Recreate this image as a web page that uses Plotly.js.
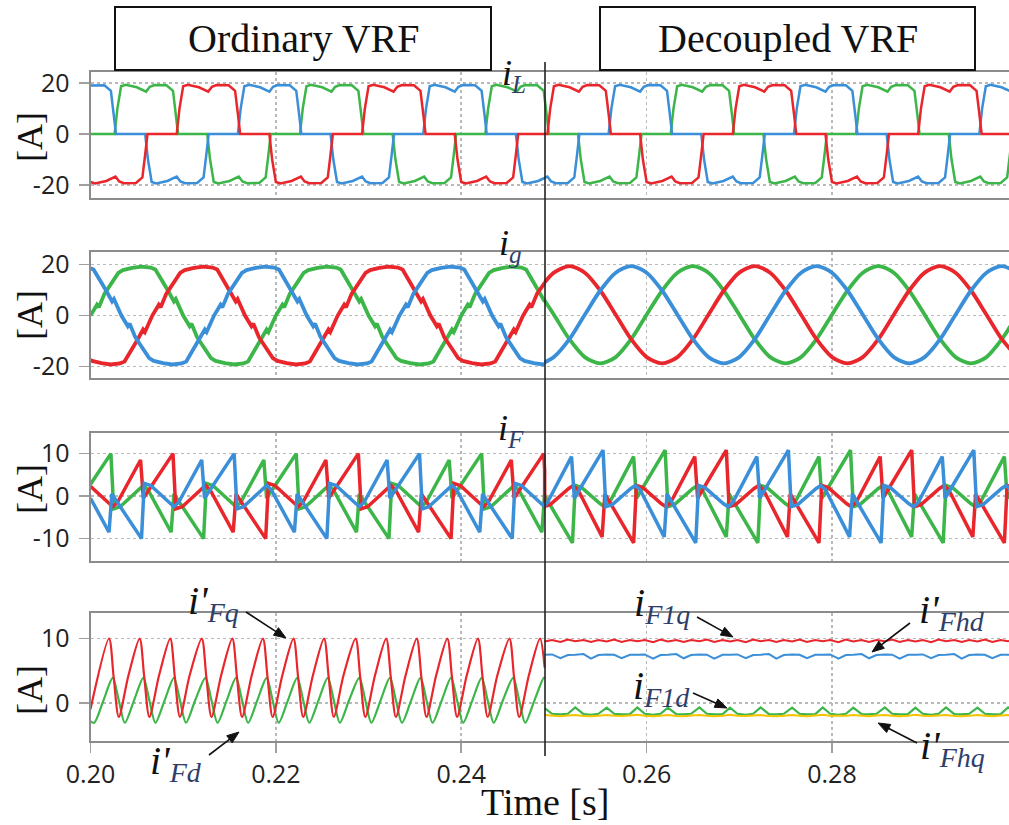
<!DOCTYPE html>
<html>
<head>
<meta charset="utf-8">
<script src="https://cdn.plot.ly/plotly-3.0.1.min.js"></script>
<style>html,body{margin:0;padding:0;background:#fff;}#chart{width:1009px;height:825px;}</style>
</head>
<body>
<div id="chart"></div>
<script>
// ---------------- DATA (time in ms, current in A) ----------------
const xTickVals = [0.20, 0.22, 0.24, 0.26, 0.28];
const xTickText = ['0.20', '0.22', '0.24', '0.26', '0.28'];
const yTickVals = [[-20, 0, 20], [-20, 0, 20], [-10, 0, 10], [0, 10]];
const yTickText = [['-20', '0', '20'], ['-20', '0', '20'], ['-10', '0', '10'], ['0', '10']];
const panelTitles = ['Ordinary VRF', 'Decoupled VRF'];

// Row 1: load current i_L
const iL_green = [[200,0],
[202.6,0],[202.9,10],[203.3,18.8],[203.8,19.4],[205,18.4],[206,16.7],[206.4,18.6],[206.9,19.3],[208.2,19.2],[208.9,17],[209.2,8],[209.45,0],
[212.6,0],[212.9,-10],[213.3,-18.8],[213.8,-19.4],[215,-18.4],[216,-16.7],[216.4,-18.6],[216.9,-19.3],[218.2,-19.2],[218.9,-17],[219.2,-8],[219.45,0],
[222.6,0],[222.9,10],[223.3,18.8],[223.8,19.4],[225,18.4],[226,16.7],[226.4,18.6],[226.9,19.3],[228.2,19.2],[228.9,17],[229.2,8],[229.45,0],
[232.6,0],[232.9,-10],[233.3,-18.8],[233.8,-19.4],[235,-18.4],[236,-16.7],[236.4,-18.6],[236.9,-19.3],[238.2,-19.2],[238.9,-17],[239.2,-8],[239.45,0],
[242.6,0],[242.9,10],[243.3,18.8],[243.8,19.4],[245,18.4],[246,16.7],[246.4,18.6],[246.9,19.3],[248.2,19.2],[248.9,17],[249.2,8],[249.45,0],
[252.6,0],[252.9,-10],[253.3,-18.8],[253.8,-19.4],[255,-18.4],[256,-16.7],[256.4,-18.6],[256.9,-19.3],[258.2,-19.2],[258.9,-17],[259.2,-8],[259.45,0],
[262.6,0],[262.9,10],[263.3,18.8],[263.8,19.4],[265,18.4],[266,16.7],[266.4,18.6],[266.9,19.3],[268.2,19.2],[268.9,17],[269.2,8],[269.45,0],
[272.6,0],[272.9,-10],[273.3,-18.8],[273.8,-19.4],[275,-18.4],[276,-16.7],[276.4,-18.6],[276.9,-19.3],[278.2,-19.2],[278.9,-17],[279.2,-8],[279.45,0],
[282.6,0],[282.9,10],[283.3,18.8],[283.8,19.4],[285,18.4],[286,16.7],[286.4,18.6],[286.9,19.3],[288.2,19.2],[288.9,17],[289.2,8],[289.45,0],
[292.6,0],[292.9,-10],[293.3,-18.8],[293.8,-19.4],[295,-18.4],[296,-16.7],[296.4,-18.6],[296.9,-19.3],[298.2,-19.2],[298.9,-17],[299.2,-8],[299.45,0]];

const iL_red = [[200,-18.8],[200.5,-19.4],[201.7,-18.4],[202.7,-16.7],[203.1,-18.6],[203.6,-19.3],[204.9,-19.2],[205.6,-17],[205.9,-8],[206.15,0],
[209.3,0],[209.6,10],[210,18.8],[210.5,19.4],[211.7,18.4],[212.7,16.7],[213.1,18.6],[213.6,19.3],[214.9,19.2],[215.6,17],[215.9,8],[216.15,0],
[219.3,0],[219.6,-10],[220,-18.8],[220.5,-19.4],[221.7,-18.4],[222.7,-16.7],[223.1,-18.6],[223.6,-19.3],[224.9,-19.2],[225.6,-17],[225.9,-8],[226.15,0],
[229.3,0],[229.6,10],[230,18.8],[230.5,19.4],[231.7,18.4],[232.7,16.7],[233.1,18.6],[233.6,19.3],[234.9,19.2],[235.6,17],[235.9,8],[236.15,0],
[239.3,0],[239.6,-10],[240,-18.8],[240.5,-19.4],[241.7,-18.4],[242.7,-16.7],[243.1,-18.6],[243.6,-19.3],[244.9,-19.2],[245.6,-17],[245.9,-8],[246.15,0],
[249.3,0],[249.6,10],[250,18.8],[250.5,19.4],[251.7,18.4],[252.7,16.7],[253.1,18.6],[253.6,19.3],[254.9,19.2],[255.6,17],[255.9,8],[256.15,0],
[259.3,0],[259.6,-10],[260,-18.8],[260.5,-19.4],[261.7,-18.4],[262.7,-16.7],[263.1,-18.6],[263.6,-19.3],[264.9,-19.2],[265.6,-17],[265.9,-8],[266.15,0],
[269.3,0],[269.6,10],[270,18.8],[270.5,19.4],[271.7,18.4],[272.7,16.7],[273.1,18.6],[273.6,19.3],[274.9,19.2],[275.6,17],[275.9,8],[276.15,0],
[279.3,0],[279.6,-10],[280,-18.8],[280.5,-19.4],[281.7,-18.4],[282.7,-16.7],[283.1,-18.6],[283.6,-19.3],[284.9,-19.2],[285.6,-17],[285.9,-8],[286.15,0],
[289.3,0],[289.6,10],[290,18.8],[290.5,19.4],[291.7,18.4],[292.7,16.7],[293.1,18.6],[293.6,19.3],[294.9,19.2],[295.6,17],[295.9,8],[296.15,0],
[299.3,0]];

const iL_blue = [[200,19.1],[201.5,19.2],[202.2,17],[202.5,8],[202.75,0],
[205.9,0],[206.2,-10],[206.6,-18.8],[207.1,-19.4],[208.3,-18.4],[209.3,-16.7],[209.7,-18.6],[210.2,-19.3],[211.5,-19.2],[212.2,-17],[212.5,-8],[212.75,0],
[215.9,0],[216.2,10],[216.6,18.8],[217.1,19.4],[218.3,18.4],[219.3,16.7],[219.7,18.6],[220.2,19.3],[221.5,19.2],[222.2,17],[222.5,8],[222.75,0],
[225.9,0],[226.2,-10],[226.6,-18.8],[227.1,-19.4],[228.3,-18.4],[229.3,-16.7],[229.7,-18.6],[230.2,-19.3],[231.5,-19.2],[232.2,-17],[232.5,-8],[232.75,0],
[235.9,0],[236.2,10],[236.6,18.8],[237.1,19.4],[238.3,18.4],[239.3,16.7],[239.7,18.6],[240.2,19.3],[241.5,19.2],[242.2,17],[242.5,8],[242.75,0],
[245.9,0],[246.2,-10],[246.6,-18.8],[247.1,-19.4],[248.3,-18.4],[249.3,-16.7],[249.7,-18.6],[250.2,-19.3],[251.5,-19.2],[252.2,-17],[252.5,-8],[252.75,0],
[255.9,0],[256.2,10],[256.6,18.8],[257.1,19.4],[258.3,18.4],[259.3,16.7],[259.7,18.6],[260.2,19.3],[261.5,19.2],[262.2,17],[262.5,8],[262.75,0],
[265.9,0],[266.2,-10],[266.6,-18.8],[267.1,-19.4],[268.3,-18.4],[269.3,-16.7],[269.7,-18.6],[270.2,-19.3],[271.5,-19.2],[272.2,-17],[272.5,-8],[272.75,0],
[275.9,0],[276.2,10],[276.6,18.8],[277.1,19.4],[278.3,18.4],[279.3,16.7],[279.7,18.6],[280.2,19.3],[281.5,19.2],[282.2,17],[282.5,8],[282.75,0],
[285.9,0],[286.2,-10],[286.6,-18.8],[287.1,-19.4],[288.3,-18.4],[289.3,-16.7],[289.7,-18.6],[290.2,-19.3],[291.5,-19.2],[292.2,-17],[292.5,-8],[292.75,0],
[295.9,0],[296.2,10],[296.6,18.8],[297.1,19.4],[298.3,18.4],[299.3,16.7]];

// Row 2: grid current i_g, ordinary VRF part (distorted)
const ig_green_L = [[200,0],[200.7,4.2],[200.9,3.2],[201.5,8.5],[203,16.7],[203.5,17.8],[204.5,18.7],[205.5,19.2],[206.5,18.8],[207,18],[208.4,9.5],[209,5.5],[209.2,6.5],
[210,0],[210.7,-4.2],[210.9,-3.2],[211.5,-8.5],[213,-16.7],[213.5,-17.8],[214.5,-18.7],[215.5,-19.2],[216.5,-18.8],[217,-18],[218.4,-9.5],[219,-5.5],[219.2,-6.5],
[220,0],[220.7,4.2],[220.9,3.2],[221.5,8.5],[223,16.7],[223.5,17.8],[224.5,18.7],[225.5,19.2],[226.5,18.8],[227,18],[228.4,9.5],[229,5.5],[229.2,6.5],
[230,0],[230.7,-4.2],[230.9,-3.2],[231.5,-8.5],[233,-16.7],[233.5,-17.8],[234.5,-18.7],[235.5,-19.2],[236.5,-18.8],[237,-18],[238.4,-9.5],[239,-5.5],[239.2,-6.5],
[240,0],[240.7,4.2],[240.9,3.2],[241.5,8.5],[243,16.7],[243.5,17.8],[244.5,18.7],[245.5,19.2],[246.5,18.8],[247,18],[248.4,9.5],[249,5.5]];

const ig_red_L = [[200,-17.4],[200.17,-17.8],[201.17,-18.7],[202.17,-19.2],[203.17,-18.8],[203.67,-18],[205.07,-9.5],[205.67,-5.5],[205.87,-6.5],
[206.67,0],[207.37,4.2],[207.57,3.2],[208.17,8.5],[209.67,16.7],[210.17,17.8],[211.17,18.7],[212.17,19.2],[213.17,18.8],[213.67,18],[215.07,9.5],[215.67,5.5],[215.87,6.5],
[216.67,0],[217.37,-4.2],[217.57,-3.2],[218.17,-8.5],[219.67,-16.7],[220.17,-17.8],[221.17,-18.7],[222.17,-19.2],[223.17,-18.8],[223.67,-18],[225.07,-9.5],[225.67,-5.5],[225.87,-6.5],
[226.67,0],[227.37,4.2],[227.57,3.2],[228.17,8.5],[229.67,16.7],[230.17,17.8],[231.17,18.7],[232.17,19.2],[233.17,18.8],[233.67,18],[235.07,9.5],[235.67,5.5],[235.87,6.5],
[236.67,0],[237.37,-4.2],[237.57,-3.2],[238.17,-8.5],[239.67,-16.7],[240.17,-17.8],[241.17,-18.7],[242.17,-19.2],[243.17,-18.8],[243.67,-18],[245.07,-9.5],[245.67,-5.5],[245.87,-6.5],
[246.67,0],[247.37,4.2],[247.57,3.2],[248.17,8.5],[249,12.8]];

const ig_blue_L = [[200,18.5],[200.33,18],[201.73,9.5],[202.33,5.5],[202.53,6.5],
[203.33,0],[204.03,-4.2],[204.23,-3.2],[204.83,-8.5],[206.33,-16.7],[206.83,-17.8],[207.83,-18.7],[208.83,-19.2],[209.83,-18.8],[210.33,-18],[211.73,-9.5],[212.33,-5.5],[212.53,-6.5],
[213.33,0],[214.03,4.2],[214.23,3.2],[214.83,8.5],[216.33,16.7],[216.83,17.8],[217.83,18.7],[218.83,19.2],[219.83,18.8],[220.33,18],[221.73,9.5],[222.33,5.5],[222.53,6.5],
[223.33,0],[224.03,-4.2],[224.23,-3.2],[224.83,-8.5],[226.33,-16.7],[226.83,-17.8],[227.83,-18.7],[228.83,-19.2],[229.83,-18.8],[230.33,-18],[231.73,-9.5],[232.33,-5.5],[232.53,-6.5],
[233.33,0],[234.03,4.2],[234.23,3.2],[234.83,8.5],[236.33,16.7],[236.83,17.8],[237.83,18.7],[238.83,19.2],[239.83,18.8],[240.33,18],[241.73,9.5],[242.33,5.5],[242.53,6.5],
[243.33,0],[244.03,-4.2],[244.23,-3.2],[244.83,-8.5],[246.33,-16.7],[246.83,-17.8],[247.83,-18.7],[248.83,-19.2],[249,-19.1]];

// Row 2: grid current i_g, decoupled VRF part (sinusoidal), common time grid
const igR_t = [249,250,251.67,253.33,255,256.67,258.33,260,261.67,263.33,265,266.67,268.33,270,271.67,273.33,275,276.67,278.33,280,281.67,283.33,285,286.67,288.33,290,291.67,293.33,295,296.67,298.33,300];
const ig_green_R = [5.9,0.3,-9.3,-16.3,-18.8,-16.3,-9.3,0.3,9.8,16.8,19.4,16.8,9.8,0.3,-9.3,-16.3,-18.8,-16.3,-9.3,0.3,9.8,16.8,19.4,16.8,9.8,0.3,-9.3,-16.3,-18.8,-16.3,-9.3,0.3];
const ig_red_R = [13.0,16.8,19.4,16.8,9.8,0.3,-9.3,-16.3,-18.8,-16.3,-9.3,0.3,9.8,16.8,19.4,16.8,9.8,0.3,-9.3,-16.3,-18.8,-16.3,-9.3,0.3,9.8,16.8,19.4,16.8,9.8,0.3,-9.3,-16.3];
const ig_blue_R = [-18.4,-16.3,-9.3,0.3,9.8,16.8,19.4,16.8,9.8,0.3,-9.3,-16.3,-18.8,-16.3,-9.3,0.3,9.8,16.8,19.4,16.8,9.8,0.3,-9.3,-16.3,-18.8,-16.3,-9.3,0.3,9.8,16.8,19.4,16.8];

// Row 3: filter current i_F
const iF_green = [[200,2.8],
[202.2,10],[202.5,-3],[203.2,-2.5],[204.2,-0.5],[205.2,1.5],[205.7,2.5],[206.2,1.5],[208.7,-8.5],[209,0.5],[212.2,-10],[212.5,3],[213.2,2.5],[214.2,0.5],[215.2,-1.5],[215.7,-2.5],[216.2,-1.5],[218.7,8.5],[219,-0.5],
[222.2,10],[222.5,-3],[223.2,-2.5],[224.2,-0.5],[225.2,1.5],[225.7,2.5],[226.2,1.5],[228.7,-8.5],[229,0.5],[232.2,-10],[232.5,3],[233.2,2.5],[234.2,0.5],[235.2,-1.5],[235.7,-2.5],[236.2,-1.5],[238.7,8.5],[239,-0.5],
[242.2,10],[242.5,-3],[243.2,-2.5],[244.2,-0.5],[245.2,1.5],[245.7,2.5],[246.2,1.5],[248.7,-8.5],[249,0.5],
[249,0.1],[252,-11],[252.3,2.5],[253,2],[254,0],[255,-1.8],[255.5,-2.5],[256,-1.5],[258.6,9.3],[258.9,-0.5],
[262,10.8],[262.3,-2.5],[263,-2],[264,0],[265,1.8],[265.5,2.5],[266,1.5],[268.6,-9.6],[268.9,0.5],[272,-11],[272.3,2.5],[273,2],[274,0],[275,-1.8],[275.5,-2.5],[276,-1.5],[278.6,9.3],[278.9,-0.5],
[282,10.8],[282.3,-2.5],[283,-2],[284,0],[285,1.8],[285.5,2.5],[286,1.5],[288.6,-9.6],[288.9,0.5],[292,-11],[292.3,2.5],[293,2],[294,0],[295,-1.8],[295.5,-2.5],[296,-1.5],[298.6,9.3],[298.9,-0.5],[300,3.5]];

const iF_red = [[200,2.3],[200.9,0.5],[201.9,-1.5],[202.4,-2.5],[202.9,-1.5],[205.4,8.5],[205.7,-0.5],
[208.9,10],[209.2,-3],[209.9,-2.5],[210.9,-0.5],[211.9,1.5],[212.4,2.5],[212.9,1.5],[215.4,-8.5],[215.7,0.5],[218.9,-10],[219.2,3],[219.9,2.5],[220.9,0.5],[221.9,-1.5],[222.4,-2.5],[222.9,-1.5],[225.4,8.5],[225.7,-0.5],
[228.9,10],[229.2,-3],[229.9,-2.5],[230.9,-0.5],[231.9,1.5],[232.4,2.5],[232.9,1.5],[235.4,-8.5],[235.7,0.5],[238.9,-10],[239.2,3],[239.9,2.5],[240.9,0.5],[241.9,-1.5],[242.4,-2.5],[242.9,-1.5],[245.4,8.5],[245.7,-0.5],
[248.9,10],[249,6],
[249,-2.4],[249.6,-2],[250.6,0],[251.6,1.8],[252.1,2.5],[252.6,1.5],[255.2,-9.6],[255.5,0.5],[258.6,-11],[258.9,2.5],[259.6,2],[260.6,0],[261.6,-1.8],[262.1,-2.5],[262.6,-1.5],[265.2,9.3],[265.5,-0.5],
[268.6,10.8],[268.9,-2.5],[269.6,-2],[270.6,0],[271.6,1.8],[272.1,2.5],[272.6,1.5],[275.2,-9.6],[275.5,0.5],[278.6,-11],[278.9,2.5],[279.6,2],[280.6,0],[281.6,-1.8],[282.1,-2.5],[282.6,-1.5],[285.2,9.3],[285.5,-0.5],
[288.6,10.8],[288.9,-2.5],[289.6,-2],[290.6,0],[291.6,1.8],[292.1,2.5],[292.6,1.5],[295.2,-9.6],[295.5,0.5],[298.6,-11],[298.9,2.5],[299.6,2]];

const iF_blue = [[200,-0.5],[202,-8.5],[202.3,0.5],[205.5,-10],[205.8,3],[206.5,2.5],[207.5,0.5],[208.5,-1.5],[209,-2.5],[209.5,-1.5],[212,8.5],[212.3,-0.5],
[215.5,10],[215.8,-3],[216.5,-2.5],[217.5,-0.5],[218.5,1.5],[219,2.5],[219.5,1.5],[222,-8.5],[222.3,0.5],[225.5,-10],[225.8,3],[226.5,2.5],[227.5,0.5],[228.5,-1.5],[229,-2.5],[229.5,-1.5],[232,8.5],[232.3,-0.5],
[235.5,10],[235.8,-3],[236.5,-2.5],[237.5,-0.5],[238.5,1.5],[239,2.5],[239.5,1.5],[242,-8.5],[242.3,0.5],[245.5,-10],[245.8,3],[246.5,2.5],[247.5,0.5],[248.5,-1.5],[249,-2.5],
[249,-2.1],[249.3,-1.5],[251.9,9.3],[252.2,-0.5],
[255.3,10.8],[255.6,-2.5],[256.3,-2],[257.3,0],[258.3,1.8],[258.8,2.5],[259.3,1.5],[261.9,-9.6],[262.2,0.5],[265.3,-11],[265.6,2.5],[266.3,2],[267.3,0],[268.3,-1.8],[268.8,-2.5],[269.3,-1.5],[271.9,9.3],[272.2,-0.5],
[275.3,10.8],[275.6,-2.5],[276.3,-2],[277.3,0],[278.3,1.8],[278.8,2.5],[279.3,1.5],[281.9,-9.6],[282.2,0.5],[285.3,-11],[285.6,2.5],[286.3,2],[287.3,0],[288.3,-1.8],[288.8,-2.5],[289.3,-1.5],[291.9,9.3],[292.2,-0.5],
[295.3,10.8],[295.6,-2.5],[296.3,-2],[297.3,0],[298.3,1.8],[298.8,2.5],[299.3,1.5]];

// Row 4, ordinary VRF: i'Fq (red) and i'Fd (green)
const iFq_L = [[200,-1],
[202,10],[202.5,4],[203.05,-2.2],[204.1,4.3],[205.3,10],[205.8,4],[206.35,-2.2],[207.4,4.3],
[208.6,10],[209.1,4],[209.65,-2.2],[210.7,4.3],[212,10],[212.5,4],[213.05,-2.2],[214.1,4.3],
[215.3,10],[215.8,4],[216.35,-2.2],[217.4,4.3],[218.6,10],[219.1,4],[219.65,-2.2],[220.7,4.3],
[221.9,10],[222.4,4],[222.95,-2.2],[224,4.3],[225.2,10],[225.7,4],[226.25,-2.2],[227.3,4.3],
[228.6,10],[229.1,4],[229.65,-2.2],[230.7,4.3],[231.9,10],[232.4,4],[232.95,-2.2],[234,4.3],
[235.2,10],[235.7,4],[236.25,-2.2],[237.3,4.3],[238.5,10],[239,4],[239.55,-2.2],[240.6,4.3],
[241.8,10],[242.3,4],[242.85,-2.2],[243.9,4.3],[245.2,10],[245.7,4],[246.25,-2.2],[247.3,4.3],
[248.5,10],[249,5.5]];

const iFd_L = [[200,-2.9],[200.4,-3.1],[201.4,0.4],
[202.4,3.9],[203.05,0.4],[203.7,-3.1],[204.7,0.4],[205.7,3.9],[206.35,0.4],[207,-3.1],[208,0.4],
[209,3.9],[209.65,0.4],[210.3,-3.1],[211.3,0.4],[212.4,3.9],[213.05,0.4],[213.7,-3.1],[214.7,0.4],
[215.7,3.9],[216.35,0.4],[217,-3.1],[218,0.4],[219,3.9],[219.65,0.4],[220.3,-3.1],[221.3,0.4],
[222.3,3.9],[222.95,0.4],[223.6,-3.1],[224.6,0.4],[225.6,3.9],[226.25,0.4],[226.9,-3.1],[227.9,0.4],
[229,3.9],[229.65,0.4],[230.3,-3.1],[231.3,0.4],[232.3,3.9],[232.95,0.4],[233.6,-3.1],[234.6,0.4],
[235.6,3.9],[236.25,0.4],[236.9,-3.1],[237.9,0.4],[238.9,3.9],[239.55,0.4],[240.2,-3.1],[241.2,0.4],
[242.2,3.9],[242.85,0.4],[243.5,-3.1],[244.5,0.4],[245.6,3.9],[246.25,0.4],[246.9,-3.1],[247.9,0.4],
[248.9,3.9],[249,3.8]];

// Row 4, decoupled VRF: common time grid
const t4R = [249.0,249.8,250.7,251.5,252.3,253.2,254.0,254.8,255.7,256.5,257.3,258.2,259.0,259.8,260.7,261.5,262.3,263.2,264.0,264.8,265.7,266.5,267.3,268.2,269.0,269.8,270.7,271.5,272.3,273.2,274.0,274.8,275.7,276.5,277.3,278.2,279.0,279.8,280.7,281.5,282.3,283.2,284.0,284.8,285.7,286.5,287.3,288.2,289.0,289.8,290.7,291.5,292.3,293.2,294.0,294.8,295.7,296.5,297.3,298.2,299.0,299.8];
const iF1q_R = [9.55,9.8,9.5,9.85,9.6,9.8,9.5,9.8,9.55,9.85,9.5,9.8,9.6,9.8,9.45,9.85,9.55,9.8,9.5,9.8,9.6,9.85,9.5,9.8,9.55,9.8,9.45,9.85,9.6,9.8,9.5,9.8,9.55,9.85,9.5,9.8,9.6,9.8,9.45,9.85,9.55,9.8,9.5,9.8,9.6,9.85,9.5,9.8,9.55,9.8,9.45,9.85,9.6,9.8,9.5,9.8,9.55,9.85,9.5,9.8,9.6,9.8];
const iFhd_R = [7.5,7.55,6.95,7.45,7.5,7.6,6.9,7.45,7.55,7.5,6.95,7.5,7.5,7.55,6.9,7.45,7.5,7.6,6.95,7.45,7.55,7.5,6.9,7.5,7.5,7.55,6.95,7.45,7.5,7.6,6.9,7.45,7.55,7.5,6.95,7.5,7.5,7.55,6.9,7.45,7.5,7.6,6.95,7.45,7.55,7.5,6.9,7.5,7.5,7.55,6.95,7.45,7.5,7.6,6.9,7.45,7.55,7.5,6.95,7.5,7.5,7.55];
const iF1d_R = [-0.8,-1.7,-1.8,-1.7,-0.7,-1.75,-1.85,-1.7,-0.75,-1.7,-1.8,-1.75,-0.7,-1.7,-1.85,-1.7,-0.75,-1.75,-1.8,-1.7,-0.7,-1.7,-1.8,-1.75,-0.75,-1.7,-1.85,-1.7,-0.7,-1.75,-1.8,-1.7,-0.75,-1.7,-1.8,-1.75,-0.7,-1.7,-1.85,-1.7,-0.75,-1.75,-1.8,-1.7,-0.7,-1.7,-1.8,-1.75,-0.75,-1.7,-1.85,-1.7,-0.7,-1.75,-1.8,-1.7,-0.75,-1.7,-1.8,-1.75,-0.7,-1.7];
const iFhq_R = [-1.9,-2.0,-2.1,-1.95,-1.9,-2.05,-2.1,-2.0,-1.9,-2.0,-2.05,-1.95,-1.85,-2.0,-2.1,-2.0,-1.9,-2.05,-2.1,-1.95,-1.9,-2.0,-2.1,-2.0,-1.85,-2.0,-2.05,-1.95,-1.9,-2.05,-2.1,-2.0,-1.9,-2.0,-2.1,-1.95,-1.85,-2.0,-2.05,-2.0,-1.9,-2.05,-2.1,-1.95,-1.9,-2.0,-2.1,-2.0,-1.85,-2.0,-2.05,-1.95,-1.9,-2.05,-2.1,-2.0,-1.9,-2.0,-2.1,-1.95,-1.9,-2.0];

// ---------------- STYLE / LAYOUT ----------------
const W = 1009, H = 825;
const RED = '#e8262b', GREEN = '#3cb549', BLUE = '#3a8fd8', YELLOW = '#f4c300';
const rowsPx = [[72, 198], [252, 378], [433, 561], [613, 741]];
const yRanges = [[-25.1, 24.4], [-24.5, 24.9], [-15.27, 14.85], [-5.94, 14.0]];
const xRange = [0.2, 0.2991];
const plotLeft = 90.5;
const px = v => v / W, py = v => 1 - v / H;
const TICKFONT = {family: 'Open Sans', size: 25, color: '#222'};
const SERIF = 'Liberation Serif';

function ax(i) { return i === 1 ? '' : String(i); }
function fromPairs(pairs, i, color, width, shape) {
  return {x: pairs.map(p => p[0] / 1000), y: pairs.map(p => p[1]), xaxis: 'x' + ax(i), yaxis: 'y' + ax(i),
    type: 'scatter', mode: 'lines', line: {color: color, width: width, shape: shape || 'linear', smoothing: 0.8},
    hoverinfo: 'skip', showlegend: false};
}
function fromGrid(times, vals, i, color, width, shape) {
  return fromPairs(times.map((t, k) => [t, vals[k]]), i, color, width, shape);
}

const traces = [
  fromPairs(iL_green, 1, GREEN, 2.5), fromPairs(iL_blue, 1, BLUE, 2.5), fromPairs(iL_red, 1, RED, 2.5),
  fromPairs(ig_green_L, 2, GREEN, 3.8), fromPairs(ig_red_L, 2, RED, 3.8), fromPairs(ig_blue_L, 2, BLUE, 3.8),
  fromGrid(igR_t, ig_green_R, 2, GREEN, 3.8, 'spline'), fromGrid(igR_t, ig_red_R, 2, RED, 3.8, 'spline'), fromGrid(igR_t, ig_blue_R, 2, BLUE, 3.8, 'spline'),
  fromPairs(iF_green, 3, GREEN, 3.5), fromPairs(iF_red, 3, RED, 3.5), fromPairs(iF_blue, 3, BLUE, 3.5),
  fromPairs(iFd_L, 4, GREEN, 2.2, 'spline'), fromPairs(iFq_L, 4, RED, 2.2, 'spline'),
  fromGrid(t4R, iFhd_R, 4, BLUE, 2), fromGrid(t4R, iF1q_R, 4, RED, 2),
  fromGrid(t4R, iF1d_R, 4, GREEN, 2.2), fromGrid(t4R, iFhq_R, 4, YELLOW, 2)
];

const layout = {
  width: W, height: H, margin: {l: 0, r: 0, t: 0, b: 0},
  paper_bgcolor: '#ffffff', plot_bgcolor: '#ffffff', showlegend: false,
  shapes: [], annotations: []
};

for (let i = 1; i <= 4; i++) {
  const r = rowsPx[i - 1];
  layout['xaxis' + ax(i)] = {
    domain: [px(plotLeft), 1], range: xRange, anchor: 'y' + ax(i),
    tickvals: xTickVals, ticktext: xTickText, showticklabels: i === 4,
    ticks: i === 4 ? 'outside' : '', ticklen: 10, tickwidth: 1.5, tickcolor: '#a0a0a0',
    showgrid: true, gridcolor: '#b9b9b9', griddash: 'dot', gridwidth: 1.5,
    showline: true, mirror: true, linecolor: '#8c8c8c', linewidth: 2, zeroline: false,
    tickfont: TICKFONT, fixedrange: true
  };
  layout['yaxis' + ax(i)] = {
    domain: [py(r[1]), py(r[0])], range: yRanges[i - 1], anchor: 'x' + ax(i),
    tickvals: yTickVals[i - 1], ticktext: yTickText[i - 1],
    ticks: 'outside', ticklen: 10, tickwidth: 1.5, tickcolor: '#a0a0a0', ticklabelstandoff: 4,
    showgrid: true, gridcolor: '#b9b9b9', griddash: 'dot', gridwidth: 1.5,
    showline: true, mirror: true, linecolor: '#8c8c8c', linewidth: 2, zeroline: false,
    tickfont: TICKFONT, fixedrange: true
  };
}

// title boxes and divider
[[115, 491], [600, 975]].forEach((b, k) => {
  layout.shapes.push({type: 'rect', xref: 'paper', yref: 'paper', x0: px(b[0]), x1: px(b[1]), y0: py(70), y1: py(7),
    line: {color: '#111', width: 2}, fillcolor: '#ffffff', layer: 'above'});
  layout.annotations.push({xref: 'paper', yref: 'paper', x: px((b[0] + b[1]) / 2), y: py(39), text: panelTitles[k],
    showarrow: false, font: {family: SERIF, size: 40, color: '#111'}, xanchor: 'center', yanchor: 'middle'});
});
layout.shapes.push({type: 'line', xref: 'paper', yref: 'paper', x0: px(545), x1: px(545), y0: py(62), y1: py(756),
  line: {color: '#222', width: 1.6}, layer: 'above'});

// y-axis labels [A]
[137, 315, 489, 690].forEach(yc => {
  layout.annotations.push({xref: 'paper', yref: 'paper', x: px(30), y: py(yc), text: '[A]', textangle: -90,
    showarrow: false, font: {family: SERIF, size: 36, color: '#111'}, xanchor: 'center', yanchor: 'middle'});
});
layout.annotations.push({xref: 'paper', yref: 'paper', x: px(545), y: py(802), text: 'Time [s]', showarrow: false,
  font: {family: SERIF, size: 38, color: '#111'}, xanchor: 'center', yanchor: 'middle'});

// signal labels
const SUBC = '#2f3f6a';
function lbl(main, sub, left, mid, size) {
  return {xref: 'paper', yref: 'paper', x: px(left), y: py(mid), xanchor: 'left', yanchor: 'middle', showarrow: false,
    text: '<i>' + main + '</i><sub><span style="color:' + SUBC + '"><i>' + sub + '</i></span></sub>',
    font: {family: SERIF, size: size, color: '#111'}};
}
layout.annotations.push(lbl('i', 'L', 500, 75, 36));
layout.annotations.push(lbl('i', 'g', 497, 246, 36));
layout.annotations.push(lbl('i', 'F', 496, 430, 36));
layout.annotations.push(lbl("i'", 'Fq', 186, 603, 40));
layout.annotations.push(lbl("i'", 'Fd', 148, 763, 40));
layout.annotations.push(lbl('i', 'F1q', 632, 605, 40));
layout.annotations.push(lbl("i'", 'Fhd', 917, 612, 40));
layout.annotations.push(lbl('i', 'F1d', 631, 688, 40));
layout.annotations.push(lbl("i'", 'Fhq', 918, 748, 40));

// arrows drawn as shapes: [headX, headY, tailX, tailY] in pixels
[[286, 638, 246, 612], [239, 732, 209, 755], [733, 637, 697, 617], [872, 652, 910, 623], [727, 708, 693, 693], [878, 723, 917, 743]]
  .forEach(a => {
    const dx = a[0] - a[2], dy = a[1] - a[3], len = Math.hypot(dx, dy);
    const ux = dx / len, uy = dy / len, nx = -uy, ny = ux;
    const L = 12, w = 4.5;
    const bx = a[0] - ux * L, by = a[1] - uy * L;
    layout.shapes.push({type: 'line', xref: 'paper', yref: 'paper', x0: px(a[2]), y0: py(a[3]), x1: px(bx + ux * 2), y1: py(by + uy * 2),
      line: {color: '#111', width: 1.6}, layer: 'above'});
    const path = 'M ' + px(a[0]) + ',' + py(a[1]) + ' L ' + px(bx + nx * w) + ',' + py(by + ny * w) +
      ' L ' + px(bx - nx * w) + ',' + py(by - ny * w) + ' Z';
    layout.shapes.push({type: 'path', xref: 'paper', yref: 'paper', path: path, fillcolor: '#111',
      line: {color: '#111', width: 1}, layer: 'above'});
  });

Plotly.newPlot('chart', traces, layout, {staticPlot: true, displayModeBar: false});
</script>
</body>
</html>
